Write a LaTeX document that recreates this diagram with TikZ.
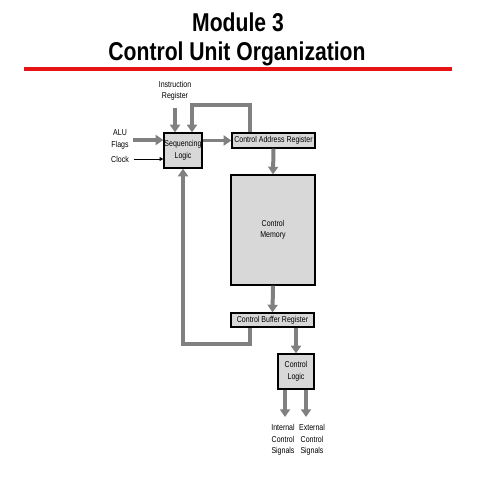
\documentclass[tikz,border=0pt]{standalone}
\usepackage{fontspec}
\usepackage{tikz}
\usetikzlibrary{arrows.meta}
\newfontfamily\titlefont[FakeStretch=0.82]{Liberation Sans}
\newfontfamily\diagfont[FakeStretch=0.82]{Liberation Sans}
\definecolor{flowgray}{RGB}{128,128,128}
\definecolor{boxgray}{RGB}{216,216,216}
\definecolor{rulered}{RGB}{230,20,20}
\tikzset{
	box/.style={draw=black, line width=1.1pt, fill=boxgray, inner sep=0pt, align=center, font=\diagfont\fontsize{7.3}{9.8}\selectfont},
	label/.style={align=center, inner sep=0pt, font=\diagfont\fontsize{7.3}{9.8}\selectfont},
	flow/.style={draw=flowgray, line width=3.4pt, -{Triangle[width=8.5pt,length=6.5pt]}},
	clk/.style={draw=black, line width=0.8pt, -{Triangle[width=3.2pt,length=3.2pt]}}
}
\begin{document}
\begin{tikzpicture}[x=0.03cm, y=-0.03cm]
			%%%%% START %%%%%
			\useasboundingbox[fill=white] (0, 0) rectangle (480, 480);
			
			\node[anchor=base, font=\titlefont\bfseries\fontsize{22}{26}\selectfont] (title1) at (238, 32) {Module 3};
			\node[anchor=base, font=\titlefont\bfseries\fontsize{22}{26}\selectfont] (title2) at (237, 61) {Control Unit Organization};
			\draw[rulered, line width=0.12cm] (24, 69) -- (452, 69);
			
			\node[box, minimum width=1.14cm, minimum height=1.05cm] (seq) at (183, 150.5) {Sequencing\\Logic};
			\node[box, minimum width=2.49cm, minimum height=0.45cm] (car) at (273.5, 140.5) {Control Address Register};
			\node[box, minimum width=2.52cm, minimum height=3.3cm] (cm) at (273, 230) {Control\\Memory};
			\node[box, minimum width=2.49cm, minimum height=0.42cm] (cbr) at (272.5, 320) {Control Buffer Register};
			\node[box, minimum width=1.08cm, minimum height=1.05cm] (cl) at (296, 371.5) {Control\\Logic};
			
			\node[label] (ir) at (175, 91) {Instruction\\Register};
			\node[label] (flags) at (120, 139.5) {ALU\\Flags};
			\node[label] (clock) at (120, 159) {Clock};
			\node[label] (int) at (283, 440) {Internal\\Control\\Signals};
			\node[label] (ext) at (312, 440) {External\\Control\\Signals};
			
			\draw[flow, shorten <=6pt] (ir.south -| 175, 0) -- (seq.north -| 175, 0);
			\draw[flow] ([xshift=0.57cm]car.north west) -- ++(0, -27) -| ([xshift=0.27cm]seq.north);
			\draw[flow, shorten <=4pt] (flags.east |- 0, 140) -- (seq.west |- 0, 140);
			\draw[clk, shorten <=4pt] (clock.east) -- (clock.east -| seq.west);
			\draw[flow] (seq.east |- car) -- (car.west);
			\draw[flow] (car.south) -- (cm.north);
			\draw[flow] (cm.south) -- (cbr.north);
			\draw[flow] (cbr.south -| cl) -- (cl.north);
			\draw[flow] ([xshift=0.6cm]cbr.south west) -- ++(0, 16) -| (seq.south);
			\draw[flow] (cl.south -| 285, 0) -- (285, 417);
			\draw[flow] (cl.south -| 306, 0) -- (306, 417);
			%%%%% END %%%%%
\end{tikzpicture}
\end{document}
